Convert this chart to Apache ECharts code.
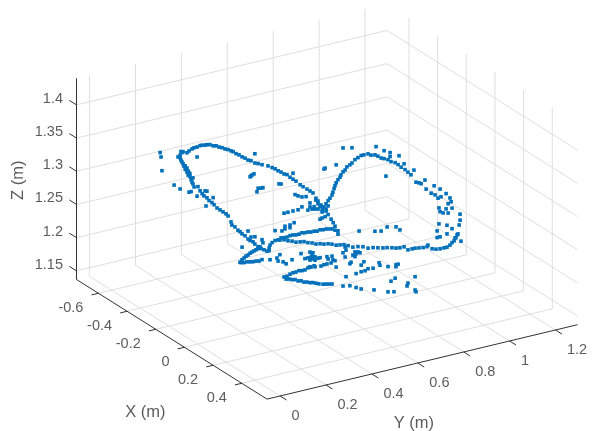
<!DOCTYPE html>
<html><head><meta charset="utf-8">
<style>html,body{margin:0;padding:0;background:#fff}#c{width:593px;height:431px}</style>
<script src="https://cdn.jsdelivr.net/npm/echarts@6/dist/echarts.min.js"></script>
</head><body><div id="c"></div>
<script>
// Axis ranges and tick labels (metres)
const xRange = [-0.753, 0.576];
const yRange = [-0.057, 1.296];
const zRange = [1.137, 1.44];
const xTicks = [-0.6, -0.4, -0.2, 0, 0.2, 0.4];
const yTicks = [0, 0.2, 0.4, 0.6, 0.8, 1, 1.2];
const zTicks = [1.15, 1.2, 1.25, 1.3, 1.35, 1.4];
const xTickLabels = ['-0.6', '-0.4', '-0.2', '0', '0.2', '0.4'];
const yTickLabels = ['0', '0.2', '0.4', '0.6', '0.8', '1', '1.2'];
const zTickLabels = ['1.15', '1.2', '1.25', '1.3', '1.35', '1.4'];

// Readings: one view cannot recover depth, so every point is read at X = 0
const readingX = 0;
const leftUpperY = [-.072,-.068,-.063,-.076,-.085,-.046,-.037,-.024,-.015,-.002,.011,.020,.033,.041,.054,.068,.081,.094,.107,.120,.133,.146,.155,.168,.181,.194,.207,.220,.233,.250,.264,.281,.307,.325,.338,.351,.364,.377,.390,.403,.416,.429,.447,.460,.477,.490,.503,.516,.525,.538,.547,.560,.569,.582,.591,.599];
const leftUpperZ = [1.433,1.431,1.432,1.428,1.426,1.429,1.431,1.433,1.434,1.434,1.435,1.435,1.434,1.434,1.433,1.430,1.429,1.426,1.424,1.421,1.419,1.416,1.414,1.410,1.407,1.403,1.400,1.396,1.394,1.389,1.387,1.384,1.380,1.376,1.373,1.369,1.366,1.362,1.360,1.355,1.351,1.347,1.340,1.336,1.331,1.327,1.323,1.314,1.309,1.302,1.298,1.291,1.285,1.277,1.271,1.265];
const leftLowerY = [-.076,-.072,-.068,-.063,-.059,-.054,-.054,-.050,-.046,-.046,-.041,-.041,-.037,-.033,-.033,-.028,-.024,-.020,-.020,-.015,.002,.011,.020,.028,.041,.050,.063,.072,.085,.098,.111,.124,.133,.146,.150,.163,.176,.185,.194,.207,.220,.229,.242,.250,.264,.277,.290,.303,.312];
const leftLowerZ = [1.424,1.420,1.417,1.414,1.410,1.410,1.405,1.404,1.406,1.400,1.401,1.395,1.398,1.392,1.396,1.387,1.383,1.380,1.389,1.375,1.374,1.367,1.362,1.358,1.354,1.349,1.345,1.341,1.335,1.331,1.327,1.323,1.319,1.309,1.304,1.300,1.294,1.291,1.287,1.283,1.277,1.274,1.271,1.267,1.262,1.258,1.255,1.252,1.252];
const vTurnY = [.272,.264,.255,.246,.237,.229,.220,.211,.203,.194,.185,.190,.203,.216,.229,.242,.255,.268,.281];
const vTurnZ = [1.261,1.259,1.258,1.257,1.256,1.255,1.253,1.252,1.250,1.248,1.245,1.244,1.243,1.243,1.242,1.241,1.241,1.240,1.241];
const strandUpperY = [.312,.316,.325,.338,.351,.364,.377,.390,.403,.416,.429,.442,.455,.468,.481,.494,.508,.521,.534,.547,.560,.573,.586,.599,.612,.612];
const strandUpperZ = [1.256,1.260,1.263,1.265,1.265,1.267,1.266,1.266,1.267,1.267,1.266,1.266,1.267,1.266,1.266,1.265,1.265,1.264,1.265,1.264,1.264,1.263,1.262,1.259,1.257,1.252];
const strandLowerY = [.359,.377,.394,.412,.429,.447,.464,.481,.499,.516,.534,.551,.569,.586,.604,.621,.638,.656,.677,.699,.721,.743,.765,.786,.808,.826,.847,.865,.882,.900,.917,.935,.948,.965,.983,1.000,1.004,1.022,1.039,1.057,1.074,1.087,1.100,1.109,1.118,1.126,1.135,1.148];
const strandLowerZ = [1.264,1.263,1.260,1.258,1.255,1.254,1.253,1.250,1.248,1.245,1.244,1.242,1.241,1.239,1.236,1.235,1.234,1.231,1.227,1.226,1.224,1.220,1.219,1.217,1.215,1.214,1.212,1.210,1.209,1.209,1.203,1.203,1.203,1.202,1.201,1.201,1.203,1.196,1.194,1.193,1.193,1.193,1.195,1.198,1.200,1.204,1.209,1.197];
const rightLoopY = [.543,.551,.560,.569,.577,.586,.590,.595,.599,.604,.612,.621,.625,.634,.643,.651,.664,.673,.686,.699,.713,.725,.743,.756,.773,.786,.800,.813,.830,.843,.861,.874,.887,.904,.917,.930];
const rightLoopZ = [1.294,1.298,1.302,1.306,1.309,1.313,1.317,1.322,1.326,1.330,1.334,1.337,1.340,1.344,1.346,1.350,1.352,1.354,1.358,1.360,1.362,1.362,1.362,1.359,1.358,1.355,1.351,1.349,1.346,1.342,1.339,1.335,1.330,1.325,1.320,1.315];
const fanLowerY = [.377,.386,.399,.412,.425,.438,.451,.464,.477,.490,.503,.516,.529,.547,.560,.573,.586];
const fanLowerZ = [1.207,1.203,1.202,1.200,1.199,1.196,1.195,1.192,1.191,1.189,1.188,1.186,1.184,1.182,1.181,1.180,1.179];
const fanUpperY = [.390,.403,.416,.429,.442,.455,.468,.481,.494,.508,.538,.551,.564,.582,.604];
const fanUpperZ = [1.207,1.209,1.210,1.210,1.211,1.210,1.210,1.212,1.212,1.213,1.210,1.211,1.211,1.211,1.203];
const strayLeftY = [-.163,-.159,-.155,-.102,-.076,-.037,-.028,-.002,-.002,.033,.041,.068,.037,.250,.416,.237,.246,.229,.233,.285,.277,.264,.259,.355,.364,.425,.438,.455,.473,.490,.516,.525,.481,.499,.512,.490,.508,.377,.394,.416,.438,.455,.534,.543,.556,.421,.403,.403,.381,.381,.368,.338,.220,.250,.233,.281,.285,.194];
const strayLeftZ = [1.439,1.432,1.411,1.385,1.377,1.369,1.369,1.360,1.419,1.365,1.364,1.352,1.342,1.403,1.360,1.372,1.373,1.370,1.371,1.349,1.349,1.350,1.345,1.349,1.348,1.327,1.324,1.321,1.320,1.309,1.311,1.305,1.299,1.299,1.298,1.303,1.302,1.303,1.303,1.303,1.303,1.306,1.281,1.282,1.283,1.285,1.283,1.279,1.283,1.279,1.277,1.280,1.289,1.278,1.279,1.271,1.266,1.267];
const strayMiddleY = [.316,.346,.351,.359,.373,.386,.412,.451,.468,.490,.499,.503,.512,.499,.512,.525,.481,.534,.564,.586,.569,.590,.599,.494,.503,.490,.490,.512,.677,.686,.691,.699,.708,.686,.669,.664,.643,.634,.643,.647,.713,.730,.743,.765,.795,.791,.830,.865,.874,.865,.713,.725,.691,.647,.861,.843,.948,.917,.913,.948,.952,.830,.856,.769,.713,.691,.664,.634];
const strayMiddleZ = [1.238,1.238,1.233,1.242,1.230,1.226,1.230,1.236,1.227,1.235,1.230,1.233,1.226,1.224,1.221,1.223,1.227,1.223,1.222,1.221,1.218,1.215,1.213,1.227,1.227,1.223,1.213,1.211,1.215,1.219,1.216,1.218,1.216,1.212,1.205,1.203,1.230,1.222,1.215,1.225,1.187,1.187,1.189,1.188,1.190,1.194,1.185,1.185,1.185,1.182,1.197,1.201,1.186,1.185,1.165,1.162,1.160,1.153,1.149,1.140,1.137,1.147,1.145,1.155,1.161,1.165,1.170,1.172];
const strayRightY = [.704,.773,.800,.826,.865,.882,.551,.556,.604,.634,.673,.778,.813,.839,.839,.878,.900,.943,.821,.991,1.031,1.057,.952,.965,.974,.996,1.018,1.035,1.048,1.061,1.083,1.100,1.105,1.092,1.109,1.052,1.057,1.083,1.070,1.092,1.144,1.144,1.140,1.052,1.087,1.109,1.044,1.044,1.057,1.087,1.122,1.131,.534,.525,.543,.560,.569];
const strayRightZ = [1.249,1.243,1.241,1.245,1.242,1.236,1.355,1.356,1.357,1.380,1.377,1.370,1.361,1.356,1.350,1.348,1.334,1.321,1.322,1.302,1.290,1.283,1.302,1.300,1.298,1.288,1.280,1.276,1.270,1.271,1.274,1.266,1.260,1.258,1.250,1.255,1.249,1.251,1.246,1.244,1.238,1.229,1.222,1.231,1.226,1.219,1.221,1.211,1.211,1.213,1.204,1.208,1.300,1.297,1.291,1.294,1.298];

const seriesY = [leftUpperY, leftLowerY, vTurnY, strandUpperY, strandLowerY, rightLoopY, fanLowerY, fanUpperY, strayLeftY, strayMiddleY, strayRightY];
const seriesZ = [leftUpperZ, leftLowerZ, vTurnZ, strandUpperZ, strandLowerZ, rightLoopZ, fanLowerZ, fanUpperZ, strayLeftZ, strayMiddleZ, strayRightZ];

// Orthographic view of the 3-D box onto the plane of the 2-D value axes
function view(x, y, z) {
  const dx = x - xRange[0], dy = y - yRange[0], dz = z - zRange[0];
  return [76.5 + dx * 143.35 + dy * 229.5, 279.5 + dx * 90 - dy * 55 - dz * 664];
}
const grid = '#dfdfdf', ink = '#333333';
const series = [];
function seg(a, b, color) {
  series.push({type: 'line', silent: true, symbol: 'none', z: color === ink ? 3 : 1,
    lineStyle: {color, width: 1}, data: [view(...a), view(...b)]});
}
const [x0, x1] = xRange, [y0, y1] = yRange, [z0, z1] = zRange;
xTicks.forEach(t => { seg([t, y0, z0], [t, y1, z0], grid); seg([t, y1, z0], [t, y1, z1], grid); });
yTicks.forEach(t => { seg([x0, t, z0], [x1, t, z0], grid); seg([x0, t, z0], [x0, t, z1], grid); });
zTicks.forEach(t => { seg([x0, y0, t], [x0, y1, t], grid); seg([x0, y1, t], [x1, y1, t], grid); });
seg([x0, y0, z0], [x0, y0, z1], ink);
seg([x0, y0, z0], [x1, y0, z0], ink);
seg([x1, y0, z0], [x1, y1, z0], ink);
xTicks.forEach(t => seg([t, y0, z0], [t, y0 - 0.03, z0], ink));
yTicks.forEach(t => seg([x1, t, z0], [x1 + 0.045, t, z0], ink));
zTicks.forEach(t => seg([x0, y0, t], [x0 - 0.05, y0, t], ink));

const points = [];
seriesY.forEach((ys, i) => ys.forEach((y, j) => points.push(view(readingX, y, seriesZ[i][j]))));
series.push({type: 'scatter', silent: true, symbol: 'rect', symbolSize: 3.6, z: 5,
  itemStyle: {color: '#0070BA', opacity: 1}, data: points});

function text(anchor, str, dx, dy, align, size, rotate) {
  series.push({type: 'scatter', silent: true, symbolSize: 0, z: 6, data: [anchor],
    label: {show: true, position: 'inside', formatter: str, offset: [dx, dy], align, verticalAlign: 'middle',
      color: ink, fontFamily: 'Liberation Sans', fontSize: size, rotate: rotate || 0}});
}
zTicks.forEach((t, i) => text(view(x0, y0, t), zTickLabels[i], -13.5, -6, 'right', 14.5));
xTicks.forEach((t, i) => text(view(t, y0, z0), xTickLabels[i], -15, 14.7, 'right', 14.5));
yTicks.forEach((t, i) => text(view(x1, t, z0), yTickLabels[i], 11.5, 20.5, 'left', 14.5));
text(view(0, y0, z0), 'X (m)', -39, 65, 'center', 16.5);
text(view(x1, 0.6, z0), 'Y (m)', -4, 60, 'center', 16.5);
text(view(x0, y0, 1.3), 'Z (m)', -9, -58, 'center', 16.5, 90);

const chart = echarts.init(document.getElementById('c'), null, {renderer: 'canvas'});
chart.setOption({
  animation: false,
  backgroundColor: '#fff',
  grid: {left: 0, right: 0, top: 0, bottom: 0},
  xAxis: {type: 'value', min: 0, max: 593, show: false},
  yAxis: {type: 'value', min: 0, max: 431, inverse: true, show: false},
  series
});
</script></body></html>
